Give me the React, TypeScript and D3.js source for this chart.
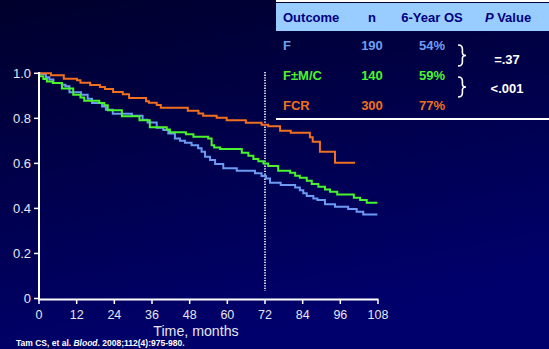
import React from "react";
import * as d3 from "d3";

const W = 549;
const H = 349;

const xTicks = [0, 12, 24, 36, 48, 60, 72, 84, 96, 108];
const yTicks = [0, 0.2, 0.4, 0.6, 0.8, 1.0];

// Kaplan-Meier step data: [month, survival]
const fSeries: [number, number][] = [
  [0, 1.0], [0.4, 0.997], [2.2, 0.982], [3.3, 0.972], [4.6, 0.957], [7.3, 0.949], [8.4, 0.942],
  [9.7, 0.916], [13.4, 0.905], [15.5, 0.887], [16.9, 0.868], [20.1, 0.853], [21.3, 0.838],
  [23.5, 0.82], [29.6, 0.812], [33.0, 0.794], [34.6, 0.782], [37.5, 0.758], [39.6, 0.748],
  [41.2, 0.733], [43.3, 0.711], [44.9, 0.7], [46.5, 0.692], [48.6, 0.681], [50.7, 0.667],
  [51.8, 0.652], [52.9, 0.629], [54.5, 0.615], [56.1, 0.597], [58.7, 0.578], [63.0, 0.567],
  [68.8, 0.556], [70.9, 0.544], [72.3, 0.533], [73.6, 0.514], [77.0, 0.504], [81.6, 0.493],
  [83.1, 0.481], [84.2, 0.467], [85.3, 0.455], [87.4, 0.444], [88.7, 0.437], [91.1, 0.419],
  [94.3, 0.407], [98.5, 0.397], [101.2, 0.385], [103.3, 0.373], [107.8, 0.373],
];

const fmcSeries: [number, number][] = [
  [0, 1.0], [0.1, 0.987], [1.4, 0.975], [2.5, 0.964], [4.4, 0.957], [7.3, 0.932], [10.9, 0.905],
  [13.2, 0.893], [14.4, 0.878], [19.2, 0.868], [20.8, 0.858], [21.9, 0.836], [26.4, 0.809],
  [32.0, 0.791], [35.3, 0.76], [40.7, 0.751], [41.7, 0.738], [46.8, 0.729], [49.2, 0.718],
  [53.9, 0.711], [55.0, 0.681], [55.8, 0.671], [57.7, 0.664], [64.6, 0.647], [66.7, 0.634],
  [68.3, 0.619], [69.9, 0.61], [71.5, 0.6], [73.0, 0.588], [76.2, 0.567], [80.0, 0.558],
  [81.6, 0.545], [83.1, 0.536], [85.3, 0.523], [86.9, 0.508], [89.0, 0.496], [91.1, 0.484],
  [92.7, 0.474], [95.0, 0.462], [100.3, 0.447], [102.3, 0.437], [104.4, 0.425], [107.8, 0.425],
];

const fcrSeries: [number, number][] = [
  [0, 1.0], [3.8, 0.991], [7.9, 0.976], [12.1, 0.969], [13.2, 0.958], [16.3, 0.948],
  [19.4, 0.939], [21.0, 0.93], [23.6, 0.917], [26.7, 0.907], [28.7, 0.89], [34.1, 0.876],
  [35.0, 0.869], [37.5, 0.859], [38.8, 0.847], [47.4, 0.834], [50.8, 0.822], [52.3, 0.812],
  [56.6, 0.803], [59.8, 0.791], [65.9, 0.78], [70.9, 0.771], [73.0, 0.765], [76.8, 0.745],
  [80.2, 0.736], [86.3, 0.716], [87.2, 0.696], [89.5, 0.652], [94.3, 0.603], [100.7, 0.603],
];

const outcomes = ["F", "F\u00b1M/C", "FCR"];
const nValues = ["190", "140", "300"];
const osValues = ["54%", "59%", "77%"];
const pValues = ["=.37", "<.001"];
const colors = ["#6b9bf2", "#47f52a", "#f0701f"];
const textColors = ["#6f9ff0", "#4df52e", "#f07020"];

export default function App() {
  const x = d3.scaleLinear().domain([0, 108]).range([39, 378]);
  const y = d3.scaleLinear().domain([0, 1]).range([298.5, 73.3]);
  const line = d3
    .line<[number, number]>()
    .x((d) => x(d[0]))
    .y((d) => y(d[1]))
    .curve(d3.curveStepAfter);

  const series = [fSeries, fmcSeries, fcrSeries];
  const font = "Arial, 'Liberation Sans', sans-serif";
  const rowY = [50, 80, 110];

  const brace = (top: number, bot: number, xl: number) => {
    const mid = (top + bot) / 2;
    const w = 8;
    const xm = xl + w * 0.55;
    return `M${xl},${top} Q${xm},${top} ${xm},${top + 4} L${xm},${mid - 3} Q${xm},${mid} ${xl + w},${mid} Q${xm},${mid} ${xm},${mid + 3} L${xm},${bot - 4} Q${xm},${bot} ${xl},${bot}`;
  };

  return (
    <svg
      width={W}
      height={H}
      style={{ position: "absolute", left: 0, top: 0, display: "block" }}
      fontFamily={font}
    >
      <defs>
        <linearGradient id="bg" x1="0" y1="0" x2="0.3" y2="1">
          <stop offset="0" stopColor="#00002c" />
          <stop offset="1" stopColor="#00006c" />
        </linearGradient>
      </defs>
      <rect x={0} y={0} width={W} height={H} fill="url(#bg)" />

      {/* Table */}
      <rect x={276} y={0} width={273} height={2} fill="#ffffff" />
      <rect x={276} y={3} width={273} height={28} fill="#99ccff" />
      <g fontWeight="bold" fontSize={13} fill="#000080">
        <text x={283} y={22}>Outcome</text>
        <text x={372} y={22} textAnchor="middle">n</text>
        <text x={432} y={22} textAnchor="middle">6-Year OS</text>
        <text x={508} y={22} textAnchor="middle">
          <tspan fontStyle="italic">P</tspan> Value
        </text>
      </g>
      {outcomes.map((o, i) => (
        <g key={o} fontWeight="bold" fontSize={13} fill={textColors[i]}>
          <text x={283} y={rowY[i]}>{o}</text>
          <text x={372} y={rowY[i]} textAnchor="middle">{nValues[i]}</text>
          <text x={432} y={rowY[i]} textAnchor="middle">{osValues[i]}</text>
        </g>
      ))}
      <path d={brace(45, 66, 458)} fill="none" stroke="#ffffff" strokeWidth={1.6} />
      <path d={brace(77, 97, 458)} fill="none" stroke="#ffffff" strokeWidth={1.6} />
      <g fontWeight="bold" fontSize={13} fill="#ffffff" textAnchor="middle">
        <text x={507} y={64}>{pValues[0]}</text>
        <text x={507} y={93}>{pValues[1]}</text>
      </g>
      <rect x={276} y={118} width={273} height={2} fill="#ffffff" />

      {/* 72-month marker */}
      <line
        x1={x(72)}
        x2={x(72)}
        y1={72}
        y2={291}
        stroke="#ffffff"
        strokeWidth={1.6}
        strokeDasharray="1.3,1.3"
      />

      {/* Curves */}
      {series.map((s, i) => (
        <path key={i} d={line(s) || ""} fill="none" stroke={colors[i]} strokeWidth={2} />
      ))}

      {/* Axes */}
      <line x1={39} x2={39} y1={72} y2={299.5} stroke="#ffffff" strokeWidth={2} />
      <line x1={38} x2={378.5} y1={299.5} y2={299.5} stroke="#ffffff" strokeWidth={2} />
      {yTicks.map((t) => (
        <g key={t}>
          <line x1={34} x2={39} y1={y(t)} y2={y(t)} stroke="#ffffff" strokeWidth={1.5} />
          <text x={31} y={y(t) + 4.5} textAnchor="end" fontSize={13} fill="#e6e6f0">
            {t === 0 ? "0" : t.toFixed(1)}
          </text>
        </g>
      ))}
      {xTicks.map((t) => (
        <g key={t}>
          <line x1={x(t)} x2={x(t)} y1={299.5} y2={304} stroke="#ffffff" strokeWidth={1.5} />
          <text x={x(t)} y={318.5} textAnchor="middle" fontSize={12.5} fill="#e6e6f0">
            {t}
          </text>
        </g>
      ))}
      <text x={196} y={335.5} textAnchor="middle" fontSize={14.2} fill="#e6e6f0">
        Time, months
      </text>
      <text x={16} y={345.5} fontSize={8.5} fontWeight="bold" fill="#ffffff">
        Tam CS, et al. <tspan fontStyle="italic">Blood</tspan>. 2008;112(4):975-980.
      </text>
    </svg>
  );
}
